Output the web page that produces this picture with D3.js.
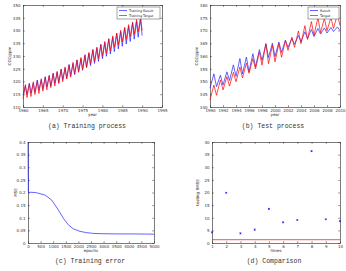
<!DOCTYPE html>
<html>
<head>
<meta charset="utf-8">
<script src="https://cdn.jsdelivr.net/npm/d3@7"></script>
<style>
  body { margin: 0; background: #fff; }
  svg { display: block; }
  .tick text { font-family: "DejaVu Sans", sans-serif; font-size: 4px; fill: #333; }
  .label { font-family: "DejaVu Sans", sans-serif; font-size: 4px; fill: #222; }
  .caption { font-family: "Liberation Mono", monospace; font-size: 6.5px; fill: #333; }
</style>
</head>
<body>
<div id="chart"></div>
<script>
// (a) training: one seasonal low and one peak per year
const trainYears = [1960, 1961, 1962, 1963, 1964, 1965, 1966, 1967, 1968, 1969,
    1970, 1971, 1972, 1973, 1974, 1975, 1976, 1977, 1978, 1979,
    1980, 1981, 1982, 1983, 1984, 1985, 1986, 1987, 1988, 1989, 1990];
const trainTargetLow = [313.1, 313.7, 314.1, 314.9, 315.3, 316.2, 316.7, 317.6, 318.2, 319.2,
    319.9, 321.0, 321.7, 322.9, 323.6, 324.8, 325.6, 326.9, 327.7, 329.0,
    329.9, 331.2, 332.1, 333.4, 334.3, 335.6, 336.5, 337.7, 338.5, 339.5, 340.0];
const trainTargetPeak = [318.8, 319.1, 319.9, 320.3, 321.1, 321.6, 322.5, 323.0, 324.0, 324.6,
    325.7, 326.4, 327.5, 328.3, 329.4, 330.2, 331.4, 332.3, 333.5, 334.4,
    335.7, 336.6, 337.9, 338.8, 340.1, 341.0, 342.3, 343.1, 344.3, 344.9];
const trainResultLow = [314.6, 314.9, 315.5, 315.8, 316.6, 317.0, 317.9, 318.2, 319.2, 319.6,
    320.7, 321.2, 322.3, 322.7, 323.9, 324.4, 325.4, 326.2, 327.1, 327.9,
    328.9, 329.9, 330.8, 331.7, 332.8, 333.8, 334.7, 335.7, 336.6, 337.4, 338.0];
const trainResultPeak = [318.3, 319.3, 319.4, 320.6, 320.7, 321.9, 322.1, 323.3, 323.6, 324.9,
    325.2, 326.7, 327.0, 328.5, 328.9, 330.5, 331.0, 332.6, 333.0, 334.6,
    335.2, 336.8, 337.3, 339.0, 339.5, 341.2, 341.6, 343.2, 343.5, 344.6];
const trainXTicks = [1960, 1965, 1970, 1975, 1980, 1985, 1990, 1995];
const trainYTicks = [310, 315, 320, 325, 330, 335, 340, 345, 350];

// (b) test
const testYears = [1990, 1991, 1992, 1993, 1994, 1995, 1996, 1997, 1998, 1999,
    2000, 2001, 2002, 2003, 2004, 2005, 2006, 2007, 2008, 2009, 2010];
const testTargetLow = [342.8, 344.6, 346.7, 348.2, 349.9, 351.4, 353.2, 354.9, 356.4, 357.0,
    357.7, 359.5, 362.2, 363.4, 364.8, 366.5, 368.0, 369.2, 369.9, 370.8, 371.9];
const testTargetPeak = [348.6, 350.6, 351.9, 353.6, 355.7, 357.2, 359.0, 361.5, 364.8, 364.2,
    364.8, 366.0, 367.4, 369.8, 371.9, 373.5, 375.1, 374.8, 375.1, 376.4];
const testResultLow = [347.4, 348.0, 348.6, 350.4, 352.0, 353.0, 353.8, 355.8, 358.3, 359.4,
    359.8, 361.4, 363.4, 364.6, 365.6, 366.8, 367.6, 368.6, 369.0, 369.6, 370.0];
const testResultPeak = [353.0, 352.5, 353.8, 356.5, 359.0, 359.6, 360.9, 362.5, 364.8, 365.0,
    365.5, 366.2, 366.8, 368.0, 369.5, 370.4, 370.8, 371.0, 371.2, 371.4];
const testXTicks = [1990, 1992, 1994, 1996, 1998, 2000, 2002, 2004, 2006, 2008, 2010];
const testYTicks = [340, 345, 350, 355, 360, 365, 370, 375, 380];

// (c) training error
const epochs = [0, 15, 30, 120, 344, 675, 939, 1204, 1402, 1601, 1799, 2063, 2328, 2593, 2857, 3500, 4200, 5000];
const errors = [0.4, 0.2, 0.2, 0.201, 0.199, 0.19, 0.17, 0.131, 0.098, 0.072, 0.056, 0.046, 0.041, 0.038, 0.037, 0.036, 0.036, 0.035];
const errXTicks = [0, 500, 1000, 1500, 2000, 2500, 3000, 3500, 4000, 4500, 5000];
const errYTicks = [0, 0.05, 0.1, 0.15, 0.2, 0.25, 0.3, 0.35, 0.4];

// (d) comparison
const runs = [1, 2, 3, 4, 5, 6, 7, 8, 9, 10];
const runRmse = [4.2, 19.9, 3.8, 5.3, 13.5, 8.2, 9.1, 36.4, 9.4, 8.7];
const baselineRmse = 1.3;
const cmpYTicks = [0, 5, 10, 15, 20, 25, 30, 35, 40];

const W = 346, H = 271;
const svg = d3.select("#chart").append("svg").attr("width", W).attr("height", H);

// sawtooth series: low at start of year, peak 0.6 into it
function seasonal(years, lows, peaks) {
    let pts = [];
    years.forEach(function (yr, i) {
        pts.push([yr, lows[i]]);
        if (i < peaks.length) pts.push([yr + 0.6, peaks[i]]);
    });
    return pts;
}

function panel(box, xScale, yScale, xTicks, yTicks, yFmt) {
    let g = svg.append("g").attr("transform", "translate(" + box.left + "," + box.top + ")");
    let w = box.right - box.left, h = box.bottom - box.top;
    xScale.range([0, w]);
    yScale.range([h, 0]);

    g.append("rect").attr("width", w).attr("height", h).attr("fill", "#fff");

    let ax = [
        [d3.axisBottom(xScale).tickValues(xTicks).tickFormat(d3.format("d")), "translate(0," + h + ")"],
        [d3.axisTop(xScale).tickValues(xTicks).tickFormat(""), "translate(0,0)"],
        [d3.axisLeft(yScale).tickValues(yTicks).tickFormat(yFmt), "translate(0,0)"],
        [d3.axisRight(yScale).tickValues(yTicks).tickFormat(""), "translate(" + w + ",0)"]
    ];
    ax.forEach(function (a) {
        g.append("g")
            .attr("transform", a[1])
            .call(a[0].tickSizeInner(-1.8).tickSizeOuter(0).tickPadding(2.5))
            .call(function (s) {
                s.select(".domain").attr("stroke", "#222").attr("stroke-width", 0.6);
                s.selectAll(".tick line").attr("stroke", "#222").attr("stroke-width", 0.5);
            });
    });
    return g;
}

function caption(text, x, y) {
    svg.append("text").attr("class", "caption").attr("x", x).attr("y", y)
        .attr("text-anchor", "middle").text(text);
}

function labels(box, xText, yText, yOff) {
    let cx = (box.left + box.right) / 2, cy = (box.top + box.bottom) / 2;
    svg.append("text").attr("class", "label").attr("x", cx).attr("y", box.bottom + 9)
        .attr("text-anchor", "middle").text(xText);
    svg.append("text").attr("class", "label")
        .attr("transform", "translate(" + (box.left - yOff) + "," + cy + ") rotate(-90)")
        .attr("text-anchor", "middle").text(yText);
}

function legend(g, x, y, w, items) {
    let lg = g.append("g").attr("transform", "translate(" + x + "," + y + ")");
    lg.append("rect").attr("width", w).attr("height", items.length * 5 + 2)
        .attr("fill", "#fff").attr("stroke", "#222").attr("stroke-width", 0.4);
    items.forEach(function (it, i) {
        lg.append("line").attr("x1", 2).attr("x2", 10).attr("y1", 3.5 + i * 5).attr("y2", 3.5 + i * 5)
            .attr("stroke", it[1]).attr("stroke-width", 0.7);
        lg.append("text").attr("class", "label").style("font-size", "3.3px")
            .attr("x", 12).attr("y", 4.7 + i * 5).text(it[0]);
    });
}

// ---- (a) Training process
let boxA = {left: 23, top: 5, right: 162, bottom: 107};
let xA = d3.scaleLinear().domain([1960, 1995]);
let yA = d3.scaleLinear().domain([310, 350]);
let gA = panel(boxA, xA, yA, trainXTicks, trainYTicks, d3.format("d"));
let lineA = d3.line().x(d => xA(d[0])).y(d => yA(d[1]));
gA.append("path").datum(seasonal(trainYears, trainResultLow, trainResultPeak))
    .attr("fill", "none").attr("stroke", "#2020ff").attr("stroke-width", 0.7).attr("d", lineA);
gA.append("path").datum(seasonal(trainYears, trainTargetLow, trainTargetPeak))
    .attr("fill", "none").attr("stroke", "#ff0000").attr("stroke-width", 0.7).attr("d", lineA);
legend(gA, 94, 2, 43, [["Training Result", "#2020ff"], ["Training Target", "#ff0000"]]);
labels(boxA, "year", "CO2/ppm", 12);
caption("(a) Training process", 87, 128);

// ---- (b) Test process
let boxB = {left: 210, top: 5, right: 340, bottom: 107};
let xB = d3.scaleLinear().domain([1990, 2010]);
let yB = d3.scaleLinear().domain([340, 380]);
let gB = panel(boxB, xB, yB, testXTicks, testYTicks, d3.format("d"));
let lineB = d3.line().x(d => xB(d[0])).y(d => yB(d[1]));
gB.append("path").datum(seasonal(testYears, testResultLow, testResultPeak))
    .attr("fill", "none").attr("stroke", "#2020ff").attr("stroke-width", 0.7).attr("d", lineB);
gB.append("path").datum(seasonal(testYears, testTargetLow, testTargetPeak))
    .attr("fill", "none").attr("stroke", "#ff0000").attr("stroke-width", 0.7).attr("d", lineB);
legend(gB, 98, 2, 31, [["Result", "#2020ff"], ["Target", "#ff0000"]]);
labels(boxB, "year", "CO2/ppm", 12);
caption("(b) Test process", 273, 128);

// ---- (c) Training error
let boxC = {left: 28, top: 142, right: 154, bottom: 243};
let xC = d3.scaleLinear().domain([0, 5000]);
let yC = d3.scaleLinear().domain([0, 0.4]);
let gC = panel(boxC, xC, yC, errXTicks, errYTicks, d3.format("~g"));
gC.append("path").datum(epochs.map((e, i) => [e, errors[i]]))
    .attr("fill", "none").attr("stroke", "#2020ff").attr("stroke-width", 0.7)
    .attr("d", d3.line().x(d => xC(d[0])).y(d => yC(d[1])));
labels(boxC, "epochs", "MSE", 11);
caption("(c) Training error", 90, 263);

// ---- (d) Comparison
let boxD = {left: 212, top: 142, right: 340, bottom: 243};
let xD = d3.scaleLinear().domain([1, 10]);
let yD = d3.scaleLinear().domain([0, 40]);
let gD = panel(boxD, xD, yD, runs, cmpYTicks, d3.format("d"));
gD.append("line").attr("x1", xD(1)).attr("x2", xD(10))
    .attr("y1", yD(baselineRmse)).attr("y2", yD(baselineRmse))
    .attr("stroke", "#ff0000").attr("stroke-width", 0.7);
let sym = d3.symbol().type(d3.symbolCross).size(3);
gD.selectAll(".pt").data(runs).join("path")
    .attr("class", "pt")
    .attr("transform", (d, i) => "translate(" + xD(d) + "," + yD(runRmse[i]) + ") rotate(45)")
    .attr("d", sym).attr("fill", "#2020ff");
labels(boxD, "times", "testing RMSE", 13);
caption("(d) Comparison", 274, 263);
</script>
</body>
</html>
